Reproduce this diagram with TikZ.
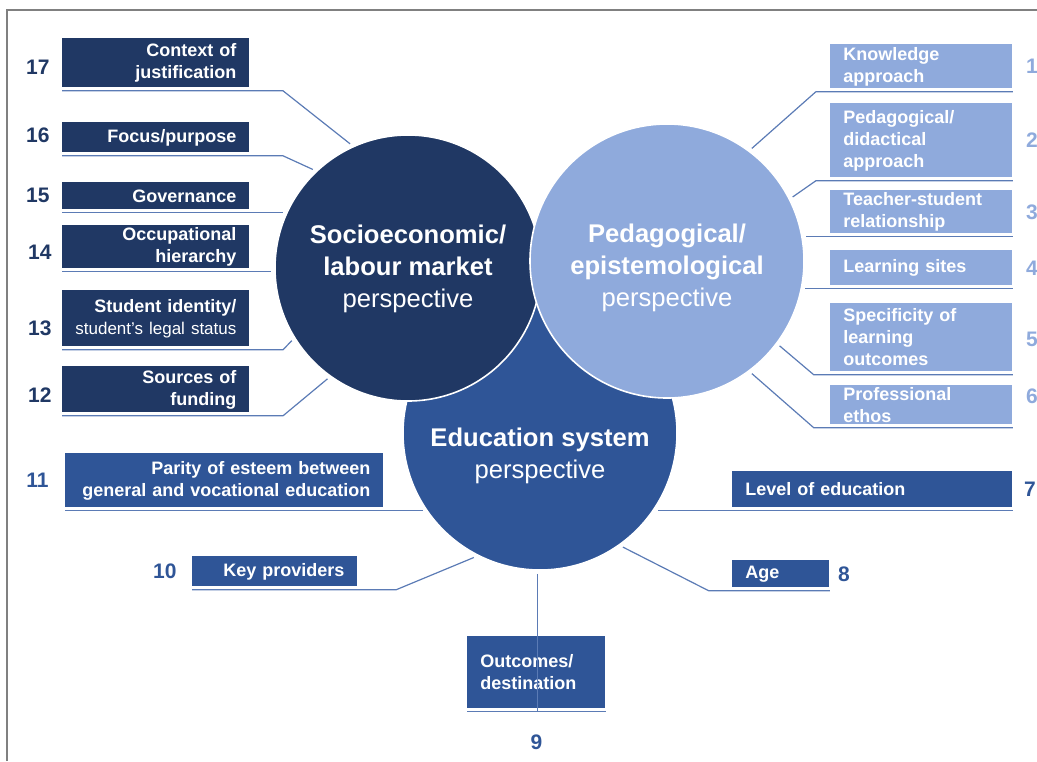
\documentclass[tikz,border=0pt]{standalone}
\usepackage{fontspec}
\setmainfont{Liberation Sans}
\usepackage{tikz}
\usetikzlibrary{positioning}

\definecolor{navy}{HTML}{203864}
\definecolor{midblue}{HTML}{2F5597}
\definecolor{lightblue}{HTML}{8FAADC}
\definecolor{linkblue}{HTML}{5B7BB5}

\begin{document}
\begin{tikzpicture}[x=0.5pt, y=-0.5pt,
  persp/.style={circle, inner sep=0pt, outer sep=2pt, draw=white, line width=0.8pt},
  ptext/.style={text=white, align=center, font=\fontsize{12.8}{16}\selectfont},
  factor/.style={rectangle, anchor=north west, inner xsep=6.5pt, inner ysep=0pt, text=white,
    font=\fontsize{9}{11}\selectfont\bfseries},
  leftbox/.style={factor, fill=navy, align=right, text width=80.5pt},
  rightbox/.style={factor, fill=lightblue, align=left, text width=78pt},
  edubox/.style={factor, fill=midblue},
  num/.style={inner sep=0pt, font=\fontsize{10.5}{12}\selectfont\bfseries},
  link/.style={draw=linkblue, line width=0.6pt}]
\useasboundingbox (0,0) rectangle (1037,761);

% Frame
\draw[gray, line width=1pt] (7,761) -- (7,10) -- (1037,10);

% Three perspectives
\node[persp, fill=midblue, minimum size=137pt] (edu) at (540,433) {};
\node[persp, fill=navy, minimum size=133pt] (socio) at (408,268) {};
\node[persp, fill=lightblue, minimum size=137pt] (ped) at (667,261) {};

\node[ptext] (sociotext) at (408,269) {\textbf{Socioeconomic/}\\\textbf{labour market}\\perspective};
\node[ptext] (pedtext) at (667,268) {\textbf{Pedagogical/}\\\textbf{epistemological}\\perspective};
\node[ptext] (edutext) at (540,456) {\textbf{Education system}\\perspective};

% Socioeconomic factors
\node[leftbox, minimum height=24.5pt] (b17) at (62,38) {Context of\\justification};
\node[leftbox, minimum height=15pt] (b16) at (62,122) {Focus/purpose};
\node[leftbox, minimum height=13.5pt] (b15) at (62,182) {Governance};
\node[leftbox, minimum height=21.5pt] (b14) at (62,225) {Occupational\\hierarchy};
\node[leftbox, minimum height=28pt] (b13) at (62,290) {Student identity/\\\makebox[80.5pt][r]{\mdseries\fontsize{8.5}{11}\selectfont student's legal status}};
\node[leftbox, minimum height=23pt] (b12) at (62,366) {Sources of\\funding};

\node[num, text=navy, left=6pt of b17, yshift=-2pt] (n17) {17};
\node[num, text=navy, left=6pt of b16, yshift=1pt] (n16) {16};
\node[num, text=navy, left=6pt of b15, yshift=0.5pt] (n15) {15};
\node[num, text=navy, left=5pt of b14, yshift=-2.5pt] (n14) {14};
\node[num, text=navy, left=5pt of b13, yshift=-5pt] (n13) {13};
\node[num, text=navy, left=5pt of b12, yshift=-3pt] (n12) {12};

% Pedagogical factors
\node[rightbox, minimum height=22pt] (b1) at (830,44) {Knowledge\\approach};
\node[rightbox, minimum height=37pt] (b2) at (830,103) {Pedagogical/\\didactical\\approach};
\node[rightbox, minimum height=21.5pt] (b3) at (830,190) {Teacher-student\\relationship};
\node[rightbox, minimum height=17.5pt] (b4) at (830,250) {Learning sites};
\node[rightbox, minimum height=34pt] (b5) at (830,303) {Specificity of\\learning\\outcomes};
\node[rightbox, minimum height=19.5pt] (b6) at (830,385) {Professional\\ethos};

\foreach \n/\s in {1/0, 2/0, 3/0, 4/0, 5/-1, 6/4.5}
  \node[num, text=lightblue, right=6.5pt of b\n, yshift=\s pt] (n\n) {\n};

% Education system factors
\node[edubox, align=left, text width=127pt, minimum height=18pt] (b7) at (732,471) {Level of education};
\node[edubox, align=left, text width=35.5pt, minimum height=13.5pt] (b8) at (732,560) {Age};
\node[edubox, align=left, text width=56pt, minimum height=36pt] (b9) at (467,636) {Outcomes/\\destination};
\node[edubox, align=right, text width=69.5pt, minimum height=15pt] (b10) at (192,556) {Key providers};
\node[edubox, align=right, text width=146pt, minimum height=27pt] (b11) at (65,453) {Parity of esteem between\\general and vocational education};

\node[num, text=midblue, right=5.5pt of b7] (n7) {7};
\node[num, text=midblue, right=4pt of b8] (n8) {8};
\node[num, text=midblue, below=13pt of b9] (n9) {9};
\node[num, text=midblue, left=7.5pt of b10] (n10) {10};
\node[num, text=midblue, left=8pt of b11] (n11) {11};

% Connectors
\foreach \n/\a in {17/115, 16/134, 13/212, 12/234}
  \draw[link] ([yshift=-1.5pt]b\n.south west) -- ++(221,0) -- (socio.\a);
\foreach \n/\a in {15/156, 14/181}
  \draw[link] ([yshift=-1.5pt]b\n.south west) coordinate (u\n) -- (u\n -| socio.\a);

\foreach \n/\d/\a in {1/-197/53, 2/-197/27, 5/-199/-37, 6/-199/-53}
  \draw[link] ([yshift=-1.5pt]b\n.south east) -- ++(\d,0) -- (ped.\a);
\foreach \n/\a in {3/10, 4/-11}
  \draw[link] ([yshift=-1.5pt]b\n.south east) coordinate (u\n) -- (u\n -| ped.\a);

\draw[link] ([yshift=-1.5pt]b7.south east) coordinate (u7) -- (u7 -| edu.-33);
\draw[link] ([yshift=-1.5pt]b8.south east) -- ++(-121,0) -- (edu.-54);
\draw[link] ([yshift=-1.5pt]b9.south west) coordinate (u9) -- ([yshift=-1.5pt]b9.south east);
\draw[link] (edu.269) -- (edu.269 |- u9);
\draw[link] ([yshift=-1.5pt]b10.south west) -- ++(204,0) -- (edu.242);
\draw[link] ([yshift=-1.5pt]b11.south west) coordinate (u11) -- (u11 -| edu.214);
\end{tikzpicture}
\end{document}
